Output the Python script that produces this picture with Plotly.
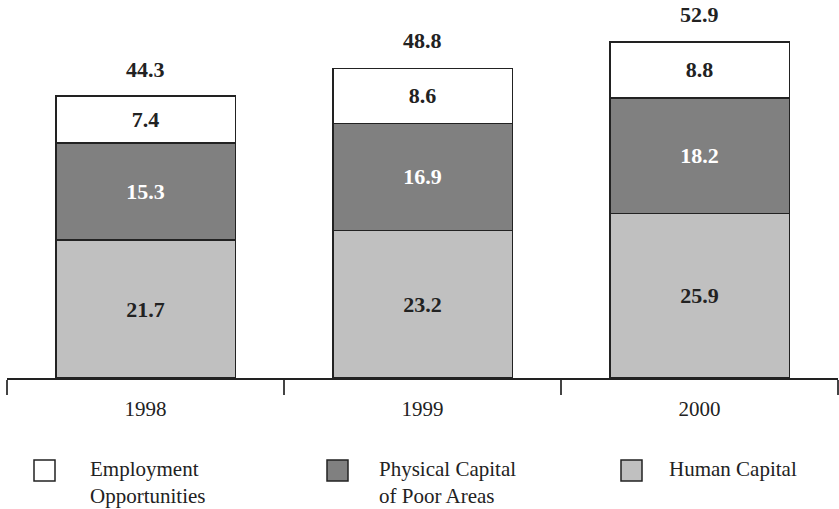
import plotly.graph_objects as go

# Data (values in the chart's units)
years = ["1998", "1999", "2000"]
human_capital = [21.7, 23.2, 25.9]
physical_capital = [15.3, 16.9, 18.2]
employment = [7.4, 8.6, 8.8]
totals = [44.3, 48.8, 52.9]

series_names = ["Employment<br>Opportunities", "Physical Capital<br>of Poor Areas", "Human Capital"]
series_colors = ["#ffffff", "#808080", "#c0c0c0"]
text_colors = ["#222222", "#ffffff", "#222222"]

FONT = "'Liberation Serif', 'Times New Roman', Times, serif"
W, H = 839, 509
ML, MR, MT, MB = 7, 1, 0, 131
PW, PH = W - ML - MR, H - MT - MB

fig = go.Figure()

# stacked from the bottom up: human, physical, employment
stack = [(human_capital, 2), (physical_capital, 1), (employment, 0)]
for vals, i in stack:
    fig.add_trace(go.Bar(
        x=years, y=vals, name=series_names[i],
        marker=dict(color=series_colors[i], line=dict(color="#222222", width=1.5)),
        text=[f"{v:.1f}" for v in vals],
        texttemplate="<b>%{text}</b>",
        textposition="inside", insidetextanchor="middle",
        textfont=dict(family=FONT, size=22, color=text_colors[i]),
        width=0.648, showlegend=False, hoverinfo="skip",
    ))

# total labels above each bar
for idx, t in enumerate(totals):
    fig.add_annotation(x=idx, y=t, xref="x", yref="y", text=f"<b>{t:.1f}</b>",
                       showarrow=False, yanchor="bottom", yshift=13,
                       font=dict(family=FONT, size=22, color="#222222"))

# hand-drawn legend below the axis
def px_x(px):
    return (px - ML) / PW

def px_y(py):
    return (MT + PH - py) / PH

leg_sq_x = [34, 327, 621]
leg_txt_x = [88, 377, 667]
sq_top, sq_size = 460, 21
for i in range(3):
    fig.add_shape(type="rect", xref="paper", yref="paper",
                  x0=px_x(leg_sq_x[i]), x1=px_x(leg_sq_x[i] + sq_size),
                  y0=px_y(sq_top + sq_size), y1=px_y(sq_top),
                  fillcolor=series_colors[i], line=dict(color="#222222", width=1.5))
    fig.add_annotation(xref="paper", yref="paper", x=px_x(leg_txt_x[i]), y=px_y(455),
                       xanchor="left", yanchor="top", align="left", showarrow=False,
                       text=series_names[i],
                       font=dict(family=FONT, size=21, color="#222222"))

fig.update_layout(
    width=W, height=H,
    margin=dict(l=ML, r=MR, t=MT, b=MB),
    barmode="stack",
    plot_bgcolor="white", paper_bgcolor="white",
    showlegend=False,
    font=dict(family=FONT, size=21, color="#222222"),
    xaxis=dict(type="category", range=[-0.5, 2.5], showline=True, linecolor="#222222",
               linewidth=2, ticks="outside", tickson="boundaries", ticklen=15,
               tickwidth=1.5, tickcolor="#444444", showgrid=False, zeroline=False,
               ticklabelstandoff=11,
               tickfont=dict(family=FONT, size=21, color="#222222")),
    yaxis=dict(range=[0, 59.5], visible=False, showgrid=False, zeroline=False),
)

fig.write_html("out.html")
